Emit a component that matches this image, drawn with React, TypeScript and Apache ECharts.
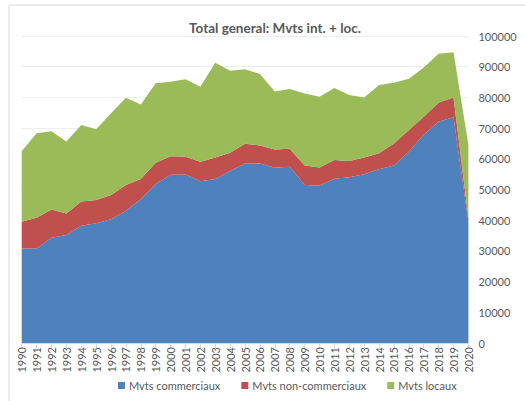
import React, { useEffect, useRef } from "react";
import * as echarts from "echarts";

const years = [
  "1990","1991","1992","1993","1994","1995","1996","1997","1998","1999",
  "2000","2001","2002","2003","2004","2005","2006","2007","2008","2009",
  "2010","2011","2012","2013","2014","2015","2016","2017","2018","2019","2020",
];

const commerciaux = [
  30800, 30800, 34300, 35200, 38200, 39000, 40300, 43100, 46800, 51800,
  54800, 54900, 52700, 53400, 56000, 58500, 58500, 57100, 57400, 51500,
  51300, 53500, 54000, 55000, 56600, 57800, 62300, 67800, 72100, 73500, 39500,
];

const nonCommerciaux = [
  8700, 10000, 9200, 7000, 7900, 7600, 7900, 8400, 6600, 6900,
  6000, 5800, 6300, 7000, 6000, 6400, 5800, 5900, 5900, 6300,
  5900, 6100, 5300, 5400, 5200, 7200, 7100, 5900, 6200, 6500, 1200,
];

const locaux = [
  23000, 27500, 25500, 23400, 24900, 23000, 26600, 28400, 24300, 25900,
  24300, 25200, 24500, 30900, 26700, 24300, 23300, 18900, 19400, 23500,
  23000, 23500, 21500, 19600, 22200, 19800, 16700, 16000, 15900, 14700, 23800,
];

const seriesNames = ["Mvts commerciaux", "Mvts non-commerciaux", "Mvts locaux"];
const colors = ["#4f81bd", "#c0504d", "#9bbb59"];

const FONT = "Lato, 'Liberation Sans', sans-serif";

export default function App() {
  const ref = useRef<HTMLDivElement>(null);
  useEffect(() => {
    if (!ref.current) return;
    const chart = echarts.init(ref.current, undefined, { renderer: "svg" });
    const data = [commerciaux, nonCommerciaux, locaux];
    chart.setOption({
      animation: false,
      backgroundColor: "#ffffff",
      textStyle: { fontFamily: FONT },
      graphic: [
        {
          type: "rect",
          shape: { x: 9, y: 5, width: 540, height: 420 },
          style: { fill: "none", stroke: "#d9d9d9", lineWidth: 1 },
          silent: true,
        },
      ],
      title: {
        text: "Total general: Mvts int. + loc.",
        left: 270,
        textAlign: "center",
        top: 16,
        textStyle: { fontFamily: FONT, fontSize: 13.5, fontWeight: "bold", color: "#595959" },
      },
      legend: {
        bottom: 5,
        left: 113,
        itemWidth: 7,
        itemHeight: 7,
        itemGap: 21,
        icon: "rect",
        textStyle: { fontFamily: FONT, fontSize: 11, color: "#595959", padding: [0, 0, 0, -1] },
        data: seriesNames,
      },
      grid: { left: 21.7, right: 56.6, top: 36, bottom: 58 },
      xAxis: {
        type: "category",
        data: years,
        boundaryGap: false,
        axisLine: { lineStyle: { color: "#d9d9d9" } },
        axisTick: { show: true, length: 5, lineStyle: { color: "#d9d9d9" }, alignWithLabel: true },
        axisLabel: {
          rotate: 90,
          interval: 0,
          fontSize: 11,
          color: "#595959",
          fontFamily: FONT,
          margin: 4,
        },
      },
      yAxis: {
        type: "value",
        position: "right",
        min: 0,
        max: 100000,
        interval: 10000,
        axisLine: { show: false },
        axisTick: { show: false },
        splitLine: { lineStyle: { color: "#eaeef3", width: 1 } },
        axisLabel: {
          fontSize: 11,
          color: "#595959",
          fontFamily: FONT,
          margin: 10,
          formatter: (v: number) => String(v),
        },
      },
      series: seriesNames.map((name, i) => ({
        name,
        type: "line",
        stack: "total",
        data: data[i],
        showSymbol: false,
        symbol: "none",
        lineStyle: { width: 0 },
        areaStyle: { color: colors[i], opacity: 1 },
        itemStyle: { color: colors[i] },
      })),
    });
    return () => chart.dispose();
  }, []);
  return <div ref={ref} style={{ width: 525, height: 401, position: "absolute", left: 0, top: 0 }} />;
}
